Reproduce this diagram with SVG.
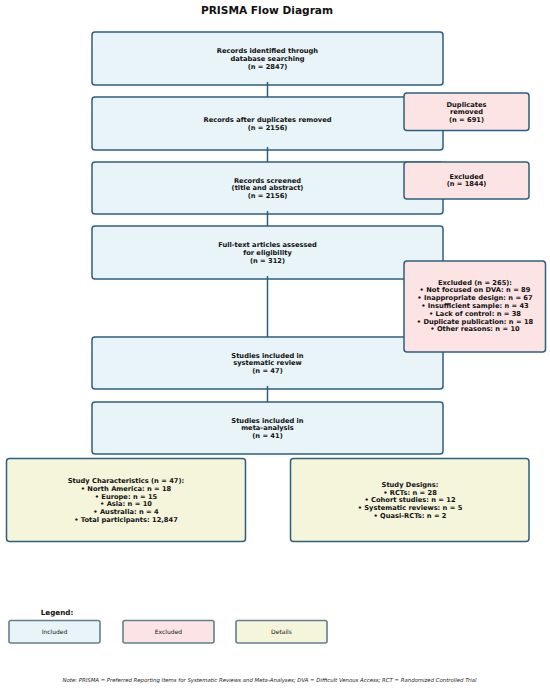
<svg xmlns="http://www.w3.org/2000/svg" width="550" height="688" viewBox="0 0 550 688">
<style>
.inc{fill:#e8f4f8;stroke:#2c5f7f;stroke-width:1.5}
.exc{fill:#fde4e4;stroke:#2c5f7f;stroke-width:1.5}
.det{fill:#f5f5dc;stroke:#2c5f7f;stroke-width:1.5}
.lg{stroke:#62808f;stroke-width:1.6}
text{font-family:"DejaVu Sans","Liberation Sans",sans-serif;fill:#111;text-anchor:middle}
.t{font-size:6.7px;font-weight:bold}
.title{font-size:10.6px;font-weight:bold}
.lt{font-size:6px}
.note{font-size:5.4px;font-style:italic;fill:#222}
.conn{stroke:#2c5f7f;stroke-width:1.5;fill:none}
</style>
<rect width="550" height="688" fill="#ffffff"/>
<text class="title" x="267" y="13.9">PRISMA Flow Diagram</text>

<g id="n1"><rect class="inc" x="92" y="32" width="351" height="53" rx="3"/>
<text class="t" x="267.5" y="53.1">Records identified through</text>
<text class="t" x="267.5" y="60.9">database searching</text>
<text class="t" x="267.5" y="68.7">(n = 2847)</text></g>

<g id="n2"><rect class="inc" x="92" y="97" width="351" height="53" rx="3"/>
<text class="t" x="267.5" y="122">Records after duplicates removed</text>
<text class="t" x="267.5" y="129.8">(n = 2156)</text></g>

<g id="n3"><rect class="inc" x="92" y="162" width="351" height="52" rx="3"/>
<text class="t" x="267.5" y="182.6">Records screened</text>
<text class="t" x="267.5" y="190.4">(title and abstract)</text>
<text class="t" x="267.5" y="198.2">(n = 2156)</text></g>

<g id="n4"><rect class="inc" x="92" y="226" width="351" height="53" rx="3"/>
<text class="t" x="267.5" y="247.1">Full-text articles assessed</text>
<text class="t" x="267.5" y="254.9">for eligibility</text>
<text class="t" x="267.5" y="262.7">(n = 312)</text></g>

<g id="n5"><rect class="inc" x="92" y="337" width="351" height="52" rx="3"/>
<text class="t" x="267.5" y="357.6">Studies included in</text>
<text class="t" x="267.5" y="365.4">systematic review</text>
<text class="t" x="267.5" y="373.2">(n = 47)</text></g>

<g id="n6"><rect class="inc" x="92" y="402" width="351" height="52" rx="3"/>
<text class="t" x="267.5" y="422.6">Studies included in</text>
<text class="t" x="267.5" y="430.4">meta-analysis</text>
<text class="t" x="267.5" y="438.2">(n = 41)</text></g>

<g id="connectors">
<line class="conn" x1="267.5" y1="82" x2="267.5" y2="97"/>
<line class="conn" x1="267.5" y1="147" x2="267.5" y2="162"/>
<line class="conn" x1="267.5" y1="211" x2="267.5" y2="226"/>
<line class="conn" x1="267.5" y1="276" x2="267.5" y2="337"/>
<line class="conn" x1="267.5" y1="386" x2="267.5" y2="402"/>
</g>

<g id="dup"><rect class="exc" x="404" y="93" width="125" height="37.5" rx="3"/>
<text class="t" x="466.5" y="106.5">Duplicates</text>
<text class="t" x="466.5" y="114.3">removed</text>
<text class="t" x="466.5" y="122.1">(n = 691)</text></g>

<g id="exc1"><rect class="exc" x="404" y="162" width="125" height="37" rx="3"/>
<text class="t" x="466.5" y="178.6">Excluded</text>
<text class="t" x="466.5" y="186.4">(n = 1844)</text></g>

<g id="exc2"><rect class="exc" x="404" y="261" width="141.5" height="91" rx="3"/>
<text class="t" x="475" y="284.6">Excluded (n = 265):</text>
<text class="t" x="475" y="292.4">• Not focused on DVA: n = 89</text>
<text class="t" x="475" y="300.2">• Inappropriate design: n = 67</text>
<text class="t" x="475" y="308">• Insufficient sample: n = 43</text>
<text class="t" x="475" y="315.8">• Lack of control: n = 38</text>
<text class="t" x="475" y="323.6">• Duplicate publication: n = 18</text>
<text class="t" x="475" y="331.4">• Other reasons: n = 10</text></g>

<g id="chars"><rect class="det" x="6.5" y="458.5" width="239" height="83" rx="3"/>
<text class="t" x="126" y="482.9">Study Characteristics (n = 47):</text>
<text class="t" x="126" y="490.7">• North America: n = 18</text>
<text class="t" x="126" y="498.5">• Europe: n = 15</text>
<text class="t" x="126" y="506.3">• Asia: n = 10</text>
<text class="t" x="126" y="514.1">• Australia: n = 4</text>
<text class="t" x="126" y="521.9">• Total participants: 12,847</text></g>

<g id="designs"><rect class="det" x="290.5" y="458.5" width="238.5" height="83" rx="3"/>
<text class="t" x="410" y="486.8">Study Designs:</text>
<text class="t" x="410" y="494.6">• RCTs: n = 28</text>
<text class="t" x="410" y="502.4">• Cohort studies: n = 12</text>
<text class="t" x="410" y="510.2">• Systematic reviews: n = 5</text>
<text class="t" x="410" y="518">• Quasi-RCTs: n = 2</text></g>

<g id="legend">
<text x="57" y="615" style="font-size:7.2px;font-weight:bold">Legend:</text>
<rect class="lg" x="9" y="620.5" width="91" height="22.5" rx="2" fill="#e8f4f8"/>
<text class="lt" x="54.5" y="634">Included</text>
<rect class="lg" x="123" y="620.5" width="91" height="22.5" rx="2" fill="#fde4e4"/>
<text class="lt" x="168.5" y="634">Excluded</text>
<rect class="lg" x="236" y="620.5" width="91" height="22.5" rx="2" fill="#f5f5dc"/>
<text class="lt" x="281.5" y="634">Details</text>
</g>

<text class="note" x="269.5" y="682" textLength="414" lengthAdjust="spacingAndGlyphs">Note: PRISMA = Preferred Reporting Items for Systematic Reviews and Meta-Analyses; DVA = Difficult Venous Access; RCT = Randomized Controlled Trial</text>
</svg>
